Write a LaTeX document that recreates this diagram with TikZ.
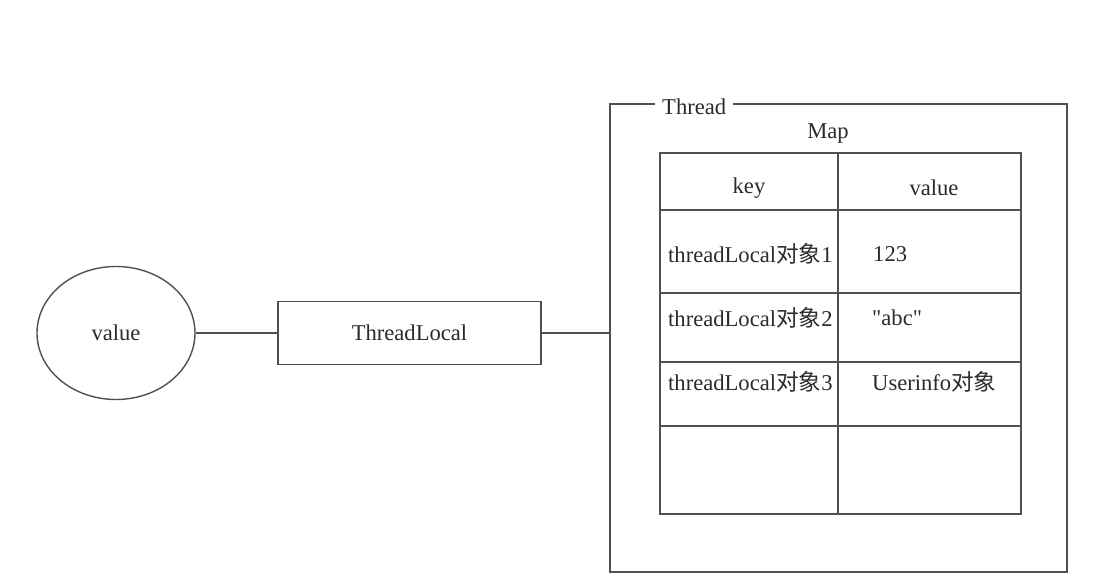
\documentclass[tikz,border=0pt]{standalone}
\usepackage{fontspec}
\setmainfont{Liberation Serif}
\newfontfamily\qfont[Ligatures=ResetAll]{Liberation Serif}
\newfontfamily\cjk{Noto Sans CJK SC}
\usetikzlibrary{shapes.geometric}
\definecolor{linec}{HTML}{505050}
\definecolor{textc}{HTML}{2A2A2A}
\tikzset{
  ln/.style={draw=linec, line width=1.4pt},
  lbl/.style={font=\fontsize{22.6}{26}\selectfont, text=textc, inner sep=0pt},
}
\begin{document}
\begin{tikzpicture}[x=1pt,y=-1pt]
\useasboundingbox (0,0) rectangle (1111,583);
% left side
\node[ln, ellipse, minimum width=158pt, minimum height=133pt, inner sep=0pt, lbl] (val) at (116,333) {value};
\node[ln, rectangle, minimum width=263pt, minimum height=63pt, inner sep=0pt, lbl] (tl) at (409.5,333) {ThreadLocal};
% thread frame
\node[ln, rectangle, minimum width=457pt, minimum height=468pt, inner sep=0pt] (frame) at (838.5,338) {};
\node[lbl, fill=white, inner xsep=7pt, inner ysep=2pt, anchor=west] (thr) at (655,107) {Thread};
\draw[ln] (val.east) -- (tl.west);
\draw[ln] (tl.east) -- (tl.east -| frame.west);
% map
\node[lbl] (map) at (828,134) {Map};
\node[ln, rectangle, minimum width=361pt, minimum height=361pt, inner sep=0pt] (tab) at (840.5,333.5) {};
\coordinate (c1) at (838,153);
\coordinate (c2) at (838,514);
\draw[ln] (c1) -- (c2);
\foreach \yy in {210,293,362,426} {
  \draw[ln] (660,\yy) -- (1021,\yy);
}
\node[lbl] (hk) at (749,188) {key};
\node[lbl] (hv) at (934,188) {value};
\node[lbl, anchor=west] (k1) at (668,254) {threadLocal{\cjk 对象}1};
\node[lbl, anchor=west] (v1) at (873,254) {123};
\node[lbl, anchor=west] (k2) at (668,318) {threadLocal{\cjk 对象}2};
\node[lbl, anchor=west] (v2) at (872,318) {{\qfont "abc"}};
\node[lbl, anchor=west] (k3) at (668,382) {threadLocal{\cjk 对象}3};
\node[lbl, anchor=west] (v3) at (872,382) {Userinfo{\cjk 对象}};
\end{tikzpicture}
\end{document}
